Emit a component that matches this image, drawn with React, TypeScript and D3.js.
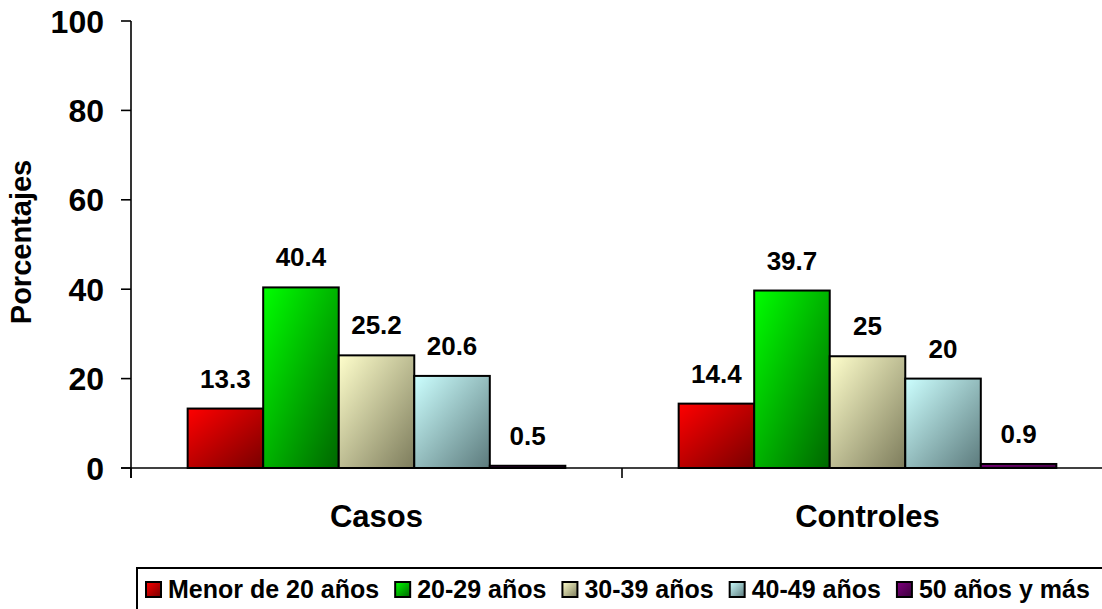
import React from "react";
import * as d3 from "d3";

const categories = ["Casos", "Controles"];
const series = ["Menor de 20 años", "20-29 años", "30-39 años", "40-49 años", "50 años y más"];
const casosValues = [13.3, 40.4, 25.2, 20.6, 0.5];
const controlesValues = [14.4, 39.7, 25, 20, 0.9];
const valueLabels = [
  ["13.3", "40.4", "25.2", "20.6", "0.5"],
  ["14.4", "39.7", "25", "20", "0.9"],
];
const yTicks = [0, 20, 40, 60, 80, 100];
const lightColors = ["#ff0000", "#00ff00", "#ffffcc", "#ccffff", "#800080"];
const darkColors = ["#780000", "#006600", "#7d7c5c", "#5c7a7c", "#3a003a"];

const W = 1102;
const H = 609;
const FONT = "'Liberation Sans', Arial, sans-serif";

export default function App() {
  const values = [casosValues, controlesValues];
  const y = d3.scaleLinear().domain([0, 100]).range([468, 21]);
  const x0 = d3.scaleBand<string>().domain(categories).range([131, 1113]).paddingInner(0).paddingOuter(0);
  const x1 = d3
    .scaleBand<string>()
    .domain(series)
    .range([0, x0.bandwidth()])
    .paddingInner(0)
    .paddingOuter(0.75);

  return (
    <svg
      width={W}
      height={H}
      style={{ position: "absolute", left: 0, top: 0, background: "#fff" }}
      fontFamily={FONT}
    >
      <defs>
        {series.map((s, i) => (
          <linearGradient key={s} id={`g${i}`} x1="0" y1="0" x2="1" y2="1">
            <stop offset="0%" stopColor={lightColors[i]} />
            <stop offset="100%" stopColor={darkColors[i]} />
          </linearGradient>
        ))}
      </defs>

      {/* y axis */}
      <line x1={131} x2={131} y1={y(100)} y2={478} stroke="#000" strokeWidth={1.6} />
      {yTicks.map((t) => (
        <g key={t}>
          <line x1={121} x2={131} y1={y(t)} y2={y(t)} stroke="#000" strokeWidth={1.6} />
          <text
            x={104}
            y={y(t)}
            dy="0.36em"
            textAnchor="end"
            fontSize={32}
            fontWeight="bold"
          >
            {t}
          </text>
        </g>
      ))}
      {/* x axis */}
      <line x1={121} x2={W} y1={y(0)} y2={y(0)} stroke="#000" strokeWidth={1.6} />
      {categories.map((c) => (
        <line
          key={c}
          x1={x0(c)!}
          x2={x0(c)!}
          y1={y(0)}
          y2={478}
          stroke="#000"
          strokeWidth={1.6}
        />
      ))}

      {/* bars */}
      {categories.map((c, ci) => (
        <g key={c} transform={`translate(${x0(c)},0)`}>
          {series.map((s, si) => {
            const v = values[ci][si];
            const bx = x1(s)!;
            const bw = x1.bandwidth();
            return (
              <g key={s}>
                <rect
                  x={bx}
                  y={y(v)}
                  width={bw}
                  height={y(0) - y(v)}
                  fill={`url(#g${si})`}
                  stroke="#000"
                  strokeWidth={2}
                />
                <text
                  x={bx + bw / 2}
                  y={y(v) - 21}
                  textAnchor="middle"
                  fontSize={26}
                  fontWeight="bold"
                >
                  {valueLabels[ci][si]}
                </text>
              </g>
            );
          })}
          <text
            x={x0.bandwidth() / 2}
            y={527}
            textAnchor="middle"
            fontSize={31}
            fontWeight="bold"
          >
            {c}
          </text>
        </g>
      ))}

      {/* y title */}
      <text
        transform={`translate(31,${242}) rotate(-90)`}
        textAnchor="middle"
        fontSize={29}
        fontWeight="bold"
      >
        Porcentajes
      </text>

      {/* legend */}
      <rect x={137} y={568} width={1000} height={60} fill="#fff" stroke="#000" strokeWidth={2} />
      <Legend fontSize={25} />
    </svg>
  );
}

function Legend({ fontSize }: { fontSize: number }) {
  const ref = React.useRef<SVGGElement>(null);
  React.useEffect(() => {
    const g = d3.select(ref.current);
    g.selectAll("*").remove();
    let x = 145;
    series.forEach((s, i) => {
      g.append("rect")
        .attr("x", x + 1)
        .attr("y", 582)
        .attr("width", 15)
        .attr("height", 15)
        .attr("fill", `url(#g${i})`)
        .attr("stroke", "#000")
        .attr("stroke-width", 2);
      const t = g
        .append("text")
        .attr("x", x + 23)
        .attr("y", 598)
        .attr("font-size", fontSize)
        .attr("font-weight", "bold")
        .attr("font-family", FONT)
        .text(s);
      const w = (t.node() as SVGTextElement).getComputedTextLength();
      x = x + 23 + w + 15;
    });
  }, [fontSize]);
  return <g ref={ref} />;
}
